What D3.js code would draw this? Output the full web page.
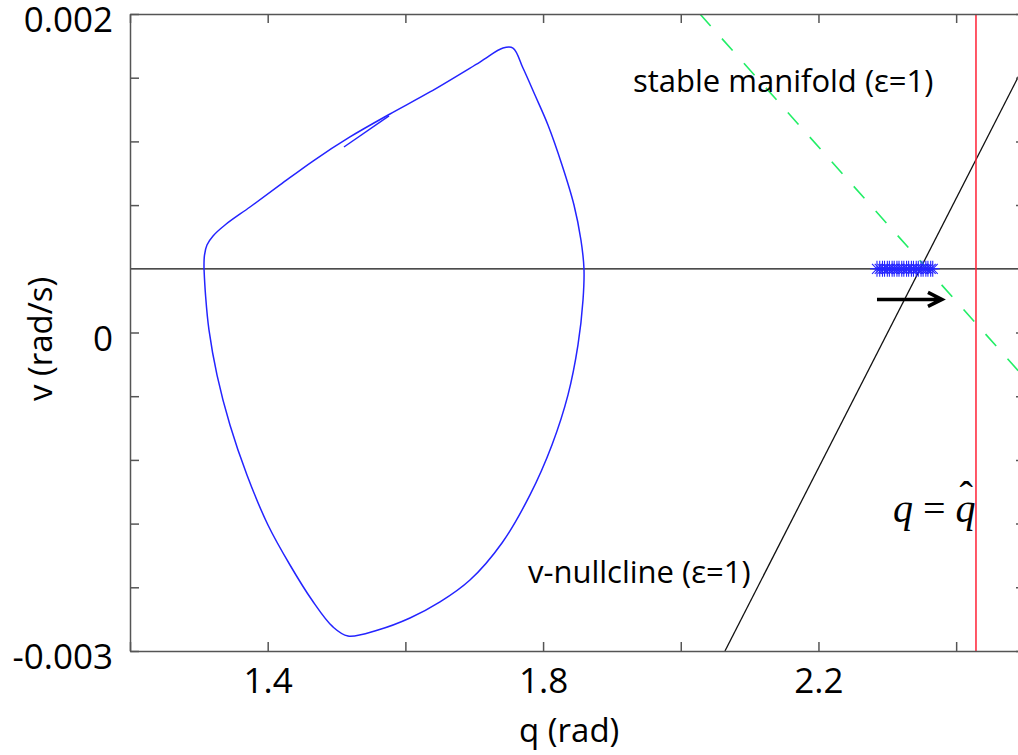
<!DOCTYPE html>
<html>
<head>
<meta charset="utf-8">
<script src="https://cdn.jsdelivr.net/npm/d3@7"></script>
<style>
  body { margin: 0; background: #fff; }
  text { font-family: "Open Sans", sans-serif; }
</style>
</head>
<body>
<svg id="chart"></svg>
<script>
// limit cycle in the (q, v) phase plane
var cycleQ = [1.3075, 1.3082, 1.3118, 1.3206, 1.3380, 1.3743, 1.4179, 1.4658, 1.5195, 1.5776,
              1.6357, 1.7083, 1.7418, 1.7563, 1.7708, 1.7882, 1.8071, 1.8275, 1.8449, 1.8550,
              1.8594, 1.8580, 1.8507, 1.8362, 1.8129, 1.7810, 1.7403, 1.6938, 1.6503, 1.6067,
              1.5602, 1.5166, 1.4948, 1.4643, 1.4324, 1.4004, 1.3699, 1.3452, 1.3264, 1.3147,
              1.3097, 1.3075];
var cycleV = [0.0000, 0.000108, 0.000187, 0.000258, 0.000344, 0.000485, 0.000658, 0.000846, 0.001035, 0.001215,
              0.001388, 0.001623, 0.001733, 0.001733, 0.001576, 0.001364, 0.001129, 0.000815, 0.000501, 0.000226,
              0.0000, -0.000245, -0.000598, -0.000990, -0.001383, -0.001775, -0.002152, -0.002443, -0.002615, -0.002741,
              -0.002835, -0.002882, -0.002811, -0.002600, -0.002325, -0.002011, -0.001618, -0.001226, -0.000834, -0.000480,
              -0.000206, 0.0000];

// short transient piece inside the cycle
var startQ = [1.5108, 1.5762];
var startV = [0.000956, 0.001200];

// equilibrium points (blue stars)
var starQ = [2.285, 2.289, 2.293, 2.296, 2.300, 2.303, 2.307, 2.310, 2.314, 2.317, 2.321, 2.324,
             2.328, 2.331, 2.335, 2.338, 2.342, 2.345, 2.349, 2.352, 2.356, 2.359, 2.363, 2.366];
var starV = [0, 0, 0, 0, 0, 0, 0, 0, 0, 0, 0, 0, 0, 0, 0, 0, 0, 0, 0, 0, 0, 0, 0, 0];

// v-nullcline and stable manifold (straight lines, two ends each)
var nullQ = [2.0642, 2.5];
var nullV = [-0.003, 0.00161];
var manQ = [2.0279, 2.5];
var manV = [0.002, -0.00086];

var qHat = 2.4288;

// arrow (start, end)
var arrowQ = [2.285, 2.3794];
var arrowV = [-0.00024, -0.00024];

// axes
var xTicks = [1.2, 1.4, 1.6, 1.8, 2.0, 2.2, 2.4];
var xTickLabels = {"1.4": "1.4", "1.8": "1.8", "2.2": "2.2"};
var yTicks = [0.002, 0.0015, 0.001, 0.0005, -0.0005, -0.001, -0.0015, -0.002, -0.0025, -0.003];
var yLabelAt = [0.002, -0.0005, -0.003];
var yLabels = ["0.002", "0", "-0.003"];

var W = 1018, H = 755;
var margin = { top: 14, left: 130 };
var width = 895, height = 637;

var svg = d3.select("#chart").attr("width", W).attr("height", H)
    .append("g")
    .attr("transform", "translate(" + margin.left + "," + margin.top + ")");

var x = d3.scaleLinear().domain([1.2, 2.5]).range([0, width]);
var y = d3.scaleLinear().domain([-0.003, 0.002]).range([height, 0]);

function pts(qs, vs) { return qs.map(function(q, i) { return [q, vs[i]]; }); }

var line = d3.line()
    .x(function(d) { return x(d[0]); })
    .y(function(d) { return y(d[1]); });

svg.append("clipPath").attr("id", "clip")
  .append("rect").attr("width", width).attr("height", height);

var plot = svg.append("g").attr("clip-path", "url(#clip)");

// v = 0 line
plot.append("path")
    .attr("d", line([[1.2, 0], [2.5, 0]]))
    .attr("stroke", "#111").attr("stroke-width", 1.3).attr("fill", "none");

// nullcline
plot.append("path")
    .attr("d", line(pts(nullQ, nullV)))
    .attr("stroke", "#111").attr("stroke-width", 1.3).attr("fill", "none");

// stable manifold
plot.append("path")
    .attr("d", line(pts(manQ, manV)))
    .attr("stroke", "#22ee66").attr("stroke-width", 1.6)
    .attr("stroke-dasharray", "16,17").attr("fill", "none");

// q = q hat
plot.append("path")
    .attr("d", line([[qHat, -0.003], [qHat, 0.002]]))
    .attr("stroke", "#ff2035").attr("stroke-width", 1.5).attr("fill", "none");

// limit cycle
plot.append("path")
    .attr("d", line.curve(d3.curveCatmullRom.alpha(0.5))(pts(cycleQ, cycleV)))
    .attr("stroke", "#2424ff").attr("stroke-width", 1.5).attr("fill", "none");
line.curve(d3.curveLinear);

plot.append("path")
    .attr("d", line(pts(startQ, startV)))
    .attr("stroke", "#2424ff").attr("stroke-width", 1.5).attr("fill", "none");

// stars
plot.selectAll(".star")
    .data(pts(starQ, starV))
    .enter().append("path")
    .attr("class", "star")
    .attr("transform", function(d) { return "translate(" + x(d[0]) + "," + y(d[1]) + ")"; })
    .attr("d", "M-7,0H7M0,-8V8M-5,-5L5,5M-5,5L5,-5")
    .attr("stroke", "#2424ff").attr("stroke-width", 1.1).attr("fill", "none");

// arrow
var a0 = [x(arrowQ[0]), y(arrowV[0])], a1 = [x(arrowQ[1]), y(arrowV[1])];
plot.append("path")
    .attr("d", "M" + a0 + "L" + a1 + "M" + (a1[0] - 14) + "," + (a1[1] - 7) + "L" + a1 + "L" + (a1[0] - 14) + "," + (a1[1] + 7))
    .attr("stroke", "#000").attr("stroke-width", 3.5).attr("fill", "none")
    .attr("stroke-linejoin", "miter");

// axes
var axisColor = "#555";
function styleAxis(g) {
    g.select(".domain").attr("stroke", axisColor).attr("stroke-width", 1.5);
    g.selectAll(".tick line").attr("stroke", axisColor).attr("stroke-width", 1.5);
}

svg.append("g")
    .attr("transform", "translate(0," + height + ")")
    .call(d3.axisBottom(x).tickValues(xTicks).tickSizeInner(-9).tickSizeOuter(0).tickPadding(17)
        .tickFormat(function(d) { return xTickLabels[d.toFixed(1)] || ""; }))
    .call(styleAxis)
    .selectAll("text").attr("font-size", 35).attr("fill", "#000")
    .attr("font-family", "Open Sans, sans-serif");

svg.append("g")
    .call(d3.axisTop(x).tickValues(xTicks).tickSizeInner(-9).tickSizeOuter(0).tickFormat(""))
    .call(styleAxis);

svg.append("g")
    .call(d3.axisLeft(y).tickValues(yTicks).tickSizeInner(-9).tickSizeOuter(0).tickFormat(""))
    .call(styleAxis);

svg.append("g")
    .attr("transform", "translate(" + width + ",0)")
    .call(d3.axisRight(y).tickValues(yTicks).tickSizeInner(-9).tickSizeOuter(0).tickFormat(""))
    .call(styleAxis);

svg.selectAll(".ylab")
    .data(yLabels)
    .enter().append("text")
    .attr("class", "ylab")
    .attr("x", -17)
    .attr("y", function(d, i) { return y(yLabelAt[i]); })
    .attr("dy", "0.52em")
    .attr("text-anchor", "end")
    .attr("font-size", 35)
    .text(function(d) { return d; });

// axis titles
svg.append("text")
    .attr("x", x(1.838)).attr("y", height + 91)
    .attr("text-anchor", "middle").attr("font-size", 33)
    .text("q (rad)");

svg.append("text")
    .attr("transform", "translate(-78," + y(-0.00055) + ") rotate(-90)")
    .attr("text-anchor", "middle").attr("font-size", 33)
    .text("v (rad/s)");

// annotations
svg.append("text")
    .attr("x", x(1.9305)).attr("y", y(0.001388))
    .attr("font-size", 31)
    .text("stable manifold (ε=1)");

svg.append("text")
    .attr("x", x(1.778)).attr("y", y(-0.002466))
    .attr("font-size", 31)
    .text("v-nullcline (ε=1)");

var serif = "'Liberation Serif', 'Times New Roman', serif";
var qt = svg.append("text")
    .attr("x", x(2.3082)).attr("y", y(-0.001987))
    .style("font-family", serif)
    .attr("font-size", 40);
qt.append("tspan").attr("font-style", "italic").text("q");
qt.append("tspan").text(" = ");
qt.append("tspan").attr("font-style", "italic").text("q");
qt.append("tspan").attr("dx", -16).attr("dy", -13).text("ˆ");
</script>
</body>
</html>
